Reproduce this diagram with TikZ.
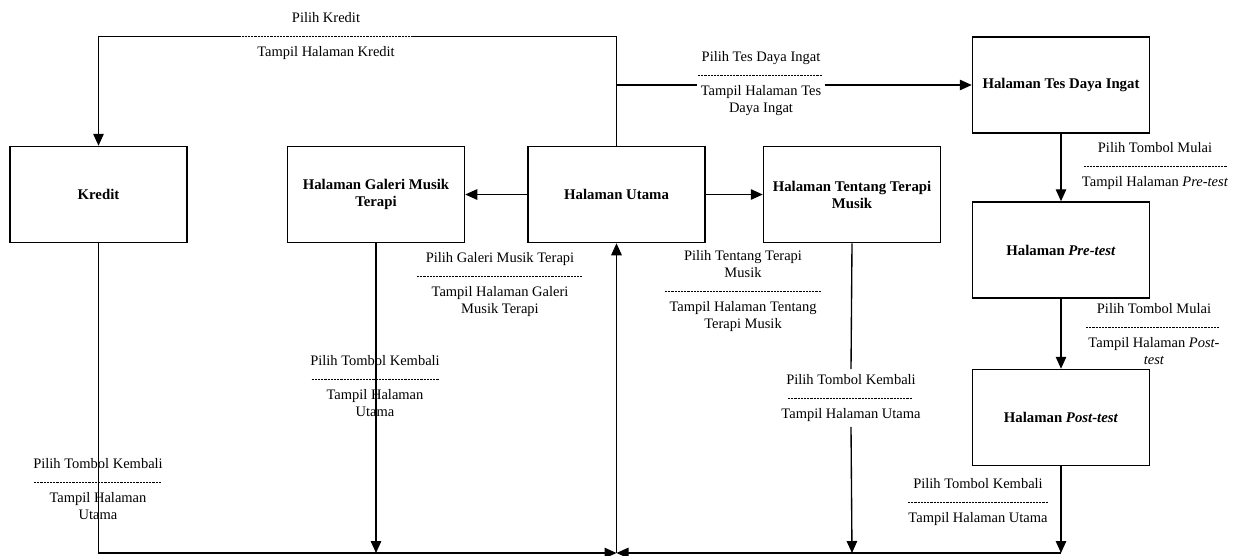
\documentclass[tikz,border=0pt]{standalone}
\usepackage{fontspec}
\setmainfont{Liberation Serif}
\usetikzlibrary{arrows.meta,positioning}

% dashed separator between the two parts of a label
\newcommand{\sepline}[1]{\raisebox{3.5pt}{\hbox to #1{\leaders\hbox to 3.2pt{\hss\vrule height 0.4pt depth 0.4pt width 2.2pt\hss}\hfill}}}

\begin{document}
\begin{tikzpicture}[x=1pt,y=-1pt]

	\tikzstyle{block} = [rectangle, draw, line width=1.5pt, minimum width=177pt,
		minimum height=96pt, align=center, font=\fontsize{14.8}{17}\selectfont\bfseries]
	\tikzstyle{plaintext} = [align=center, inner sep=0pt, font=\fontsize{14.5}{17}\selectfont]
	\tikzstyle{line} = [draw, line width=1.35pt, >={Triangle[length=12pt,width=10.5pt]}]

	\useasboundingbox (0,0) rectangle (1247,555);

	% pages
	\node[block] (kredit)  at (98.5,194.5) {Kredit};
	\node[block] (galeri)  at (376,194.5)  {Halaman Galeri Musik\\Terapi};
	\node[block] (utama)   at (616.5,194.5) {Halaman Utama};
	\node[block] (tentang) at (852,194.5)  {Halaman Tentang Terapi\\Musik};
	\node[block] (tes)     at (1061,85)    {Halaman Tes Daya Ingat};
	\node[block] (pre)     at (1061,250)   {Halaman \textit{Pre-test}};
	\node[block] (post)    at (1061,417.5) {Halaman \textit{Post-test}};

	% labels
	\node[plaintext] (lkredit) at (326,36.5)
		{Pilih Kredit\\\sepline{170pt}\\Tampil Halaman Kredit};
	\node[plaintext] (ltes) at (761,84)
		{Pilih Tes Daya Ingat\\\sepline{127pt}\\Tampil Halaman Tes\\Daya Ingat};
	\node[plaintext] (lgaleri) at (500,285)
		{Pilih Galeri Musik Terapi\\\sepline{167pt}\\Tampil Halaman Galeri\\Musik Terapi};
	\node[plaintext] (ltentang) at (743,291)
		{Pilih Tentang Terapi\\Musik\\\sepline{157pt}\\Tampil Halaman Tentang\\Terapi Musik};
	\node[plaintext] (lmulai) at (1155,166)
		{Pilih Tombol Mulai\\\sepline{144pt}\\Tampil Halaman \textit{Pre-test}};
	\node[plaintext] (lmulaib) at (1154,334)
		{Pilih Tombol Mulai\\\sepline{137pt}\\Tampil Halaman \textit{Post-}\\\textit{test}};
	\node[plaintext] (lbackg) at (375,386)
		{Pilih Tombol Kembali\\\sepline{128pt}\\Tampil Halaman\\Utama};
	\node[plaintext] (lbackk) at (98,489)
		{Pilih Tombol Kembali\\\sepline{129pt}\\Tampil Halaman\\Utama};
	\node[plaintext, inner ysep=5pt] (lbackt) at (851,398)
		{Pilih Tombol Kembali\\\sepline{127pt}\\Tampil Halaman Utama};
	\node[plaintext] (lbackp) at (978,502)
		{Pilih Tombol Kembali\\\sepline{141pt}\\Tampil Halaman Utama};

	\coordinate (hub) at (utama.south |- 0,553);

	% from main page
	\draw[line,->] (utama.west) -- (galeri.east);
	\draw[line,->] (utama.east) -- (tentang.west);
	\draw[line] (utama.north) |- (lkredit.east);
	\draw[line,->] (lkredit.west) -| (kredit.north);
	\draw[line] (utama.north |- tes.west) -- (ltes.west |- tes.west);
	\draw[line,->] (ltes.east |- tes.west) -- (tes.west);

	% memory test
	\draw[line,->] (tes.south) -- (pre.north);
	\draw[line,->] (pre.south) -- (post.north);

	% back to main page
	\draw[line,->] (kredit.south) |- (hub);
	\draw[line,->] (galeri.south) -- (galeri.south |- hub);
	\draw[line] (tentang.south) -- (lbackt.north);
	\draw[line,->] (lbackt.south) -- (tentang.south |- hub);
	\draw[line,->] (post.south) -- (post.south |- hub);
	\draw[line,->] (post.south |- hub) -- (hub);
	\draw[line,->] (hub) -- (utama.south);

\end{tikzpicture}
\end{document}
